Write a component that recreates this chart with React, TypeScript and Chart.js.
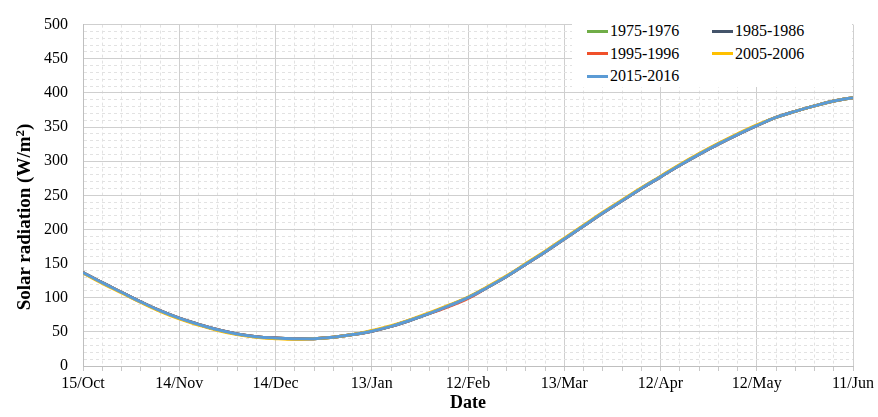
import React, { useEffect, useRef } from "react";
import { Chart, registerables } from "chart.js";

Chart.register(...registerables);

// Day offsets from 15/Oct (every 6 days)
const days = [0, 6, 12, 18, 24, 30, 36, 42, 48, 54, 60, 66, 72, 78, 84, 90, 96, 102, 108, 114, 120, 126, 132, 138, 144, 150, 156, 162, 168, 174, 180, 186, 192, 198, 204, 210, 216, 222, 228, 234, 240];

const xTickLabels = ["15/Oct", "14/Nov", "14/Dec", "13/Jan", "12/Feb", "13/Mar", "12/Apr", "12/May", "11/Jun"];

const series1975 = [137, 122, 108, 94, 81, 70, 61, 53, 47, 43, 41, 40, 40, 42, 46, 51, 58, 67, 77, 88, 100, 115, 131, 149, 167, 186, 205, 224, 242, 260, 277, 294, 310, 325, 339, 352, 364, 373, 381, 388, 393];
const series1985 = [137, 122, 108, 94, 81, 70, 61, 53, 47, 43, 41, 40, 40, 42, 46, 51, 58, 67, 77, 88, 100, 115, 131, 149, 167, 186, 205, 224, 242, 260, 277, 294, 310, 325, 339, 352, 364, 373, 381, 388, 393];
const series1995 = [137, 122, 108, 94, 81, 70, 61, 53, 47, 43, 41, 40, 40, 42, 46, 51, 58, 67, 77, 87, 99, 115, 131, 149, 167, 186, 205, 224, 242, 260, 277, 294, 310, 325, 339, 352, 364, 373, 381, 388, 393];
const series2005 = [136, 121, 107, 93, 80, 69, 60, 52, 46, 42, 40, 39, 40, 42, 46, 52, 59, 68, 78, 89, 101, 116, 132, 150, 168, 187, 206, 225, 243, 261, 278, 295, 311, 326, 340, 353, 364, 373, 381, 388, 393];
const series2015 = [137, 122, 108, 94, 81, 70, 61, 53, 47, 43, 41, 40, 40, 42, 46, 51, 58, 67, 77, 88, 100, 115, 131, 149, 167, 186, 205, 224, 242, 260, 277, 294, 310, 325, 339, 352, 364, 373, 381, 388, 393];

const seriesNames = ["1975-1976", "1985-1986", "1995-1996", "2005-2006", "2015-2016"];
const seriesColors = ["#70AD47", "#44546A", "#F0502A", "#FFC000", "#5B9BD5"];
const seriesValues = [series1975, series1985, series1995, series2005, series2015];

const FONT = "Liberation Serif";

export default function App() {
  const canvasRef = useRef<HTMLCanvasElement | null>(null);

  useEffect(() => {
    if (!canvasRef.current) return;
    Chart.defaults.font.family = FONT;
    const datasets = seriesValues.map((vals, i) => ({
      label: seriesNames[i],
      data: vals.map((v, j) => ({ x: days[j], y: v })),
      borderColor: seriesColors[i],
      backgroundColor: seriesColors[i],
      borderWidth: 3,
      pointRadius: 0,
      tension: 0.4,
      fill: false,
      order: seriesValues.length - i,
    }));
    const chart = new Chart(canvasRef.current, {
      type: "line",
      data: { datasets },
      options: {
        responsive: false,
        animation: false,
        layout: { padding: { left: 0, right: 25, top: 15, bottom: 0 } },
        plugins: {
          legend: { display: false },
          tooltip: { enabled: false },
        },
        scales: {
          x: {
            type: "linear",
            min: 0,
            max: 240,
            afterFit: (s: any) => {
              s.height = 51;
            },
            ticks: {
              stepSize: 6,
              autoSkip: false,
              maxRotation: 0,
              minRotation: 0,
              padding: 3,
              color: "#000",
              font: { family: FONT, size: 16 },
              callback: (v: any) => (Number(v) % 30 === 0 ? xTickLabels[Number(v) / 30] : ""),
            },
            grid: {
              color: (ctx: any) => (ctx.tick && ctx.tick.value % 30 === 0 ? "#cfcfcf" : "#e2e2e2"),
              tickColor: "#c8c8c8",
              tickLength: 5,
              lineWidth: 1,
            },
            border: {
              display: true,
              color: "#bfbfbf",
              dash: (ctx: any) => (ctx.tick && ctx.tick.value % 30 !== 0 ? [3, 3] : []),
            },
            title: {
              display: true,
              text: "Date",
              color: "#000",
              font: { family: FONT, size: 18, weight: "bold" },
              padding: { top: 0, bottom: 3 },
            },
          },
          y: {
            min: 0,
            max: 500,
            afterFit: (s: any) => {
              s.width = 83;
            },
            ticks: {
              stepSize: 10,
              autoSkip: false,
              padding: 15,
              color: "#000",
              font: { family: FONT, size: 16 },
              callback: (v: any) => (Number(v) % 50 === 0 ? String(v) : ""),
            },
            grid: {
              color: (ctx: any) => (ctx.tick && ctx.tick.value % 50 === 0 ? "#cfcfcf" : "#e2e2e2"),
              drawTicks: false,
              lineWidth: 1,
            },
            border: {
              display: true,
              color: "#bfbfbf",
              dash: (ctx: any) => (ctx.tick && ctx.tick.value % 50 !== 0 ? [3, 3] : []),
            },
            title: { display: false },
          },
        },
      },
    });
    return () => chart.destroy();
  }, []);

  const legendRows = [
    [0, 1],
    [2, 3],
    [4],
  ];

  return (
    <div style={{ position: "fixed", left: 0, top: 0, width: 878, height: 417, background: "#fff" }}>
      <canvas ref={canvasRef} width={878} height={417} style={{ display: "block", width: 878, height: 417 }} />
      <div
        style={{
          position: "absolute",
          left: 23.5 - 130,
          top: 216.5 - 12,
          width: 260,
          height: 24,
          lineHeight: "24px",
          textAlign: "center",
          transform: "rotate(-90deg)",
          fontFamily: FONT,
          fontWeight: "bold",
          fontSize: 19,
          color: "#000",
          whiteSpace: "nowrap",
        }}
      >
        Solar radiation (W/m<sup style={{ fontSize: 13, lineHeight: 0, verticalAlign: "6px" }}>2</sup>)
      </div>
      <div
        style={{
          position: "absolute",
          left: 572,
          top: 16,
          width: 280,
          height: 71,
          background: "#fff",
          fontFamily: FONT,
          fontSize: 16,
          color: "#000",
        }}
      >
        {legendRows.map((row, r) =>
          row.map((idx, c) => (
            <div
              key={idx}
              style={{
                position: "absolute",
                left: c === 0 ? 15 : 140,
                top: 4 + r * 22.5,
                height: 22,
                display: "flex",
                alignItems: "center",
                whiteSpace: "nowrap",
              }}
            >
              <span style={{ display: "inline-block", width: 21, height: 3, background: seriesColors[idx], marginRight: 2 }} />
              <span>{seriesNames[idx]}</span>
            </div>
          ))
        )}
      </div>
    </div>
  );
}
